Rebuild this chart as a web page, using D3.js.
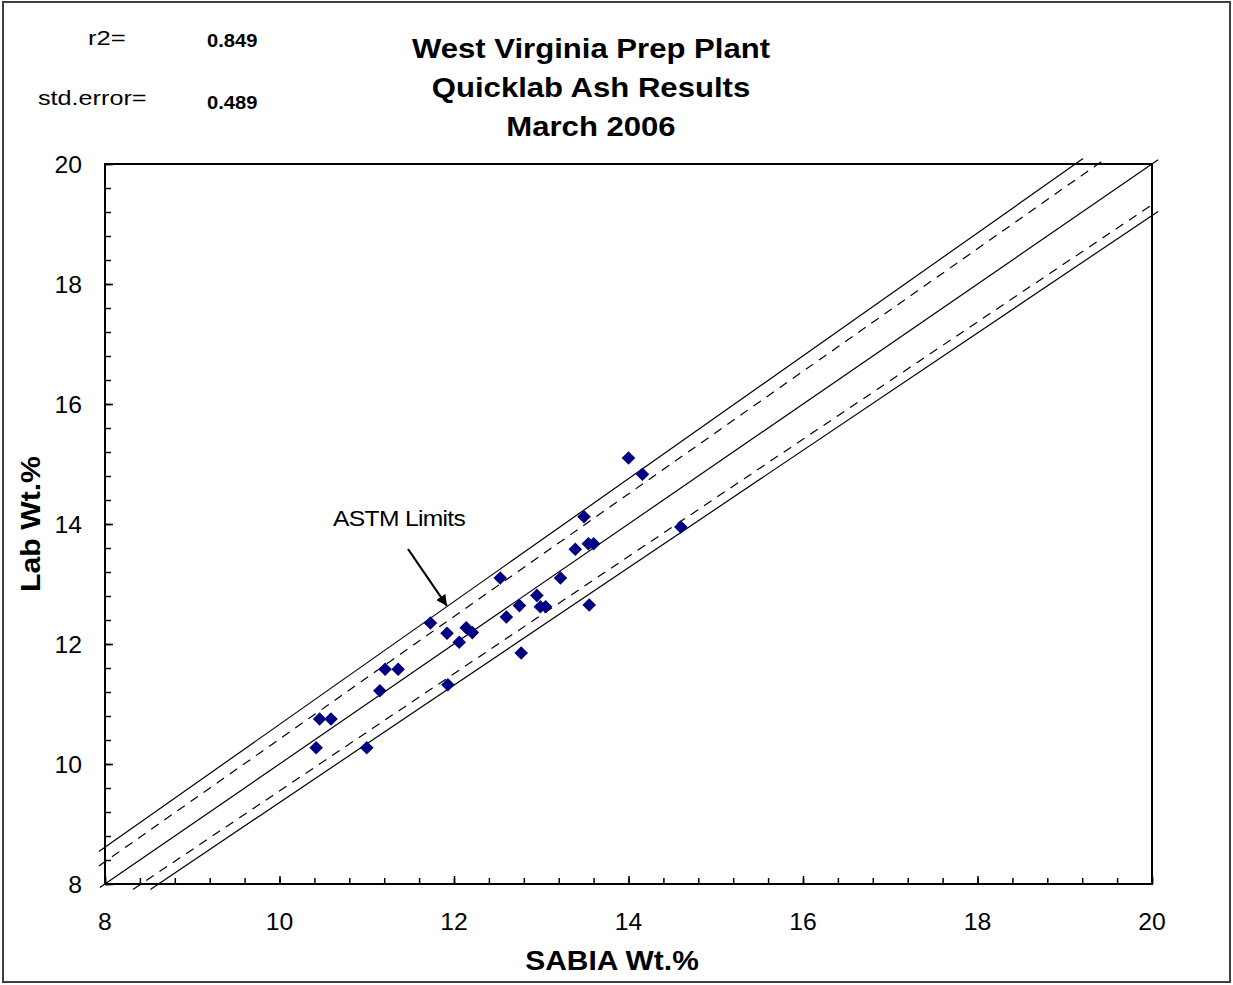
<!DOCTYPE html>
<html>
<head>
<meta charset="utf-8">
<script src="https://cdn.jsdelivr.net/npm/d3@7"></script>
<style>
  body { margin: 0; background: #fff; }
  svg text { font-family: "Liberation Sans", Arial, sans-serif; }
</style>
</head>
<body>
<div class="chart"></div>
<script>
// data
var sabia = [14.00, 14.16, 14.60, 13.49, 13.39, 13.54, 13.60, 13.22, 13.55, 12.53,
             12.95, 12.99, 13.05, 12.75, 12.60, 12.77, 11.73, 11.92, 12.14, 12.21,
             12.06, 11.93, 11.21, 11.36, 11.15, 10.46, 10.59, 10.42, 11.00];
var lab   = [15.10, 14.83, 13.95, 14.12, 13.58, 13.67, 13.67, 13.10, 12.65, 13.10,
             12.81, 12.62, 12.62, 12.64, 12.45, 11.85, 12.35, 12.18, 12.27, 12.19,
             12.03, 11.32, 11.58, 11.58, 11.22, 10.75, 10.75, 10.27, 10.27];

// limit lines as end points [x1, y1, x2, y2]
var centerLine   = [7.94, 7.94, 20.07, 20.07];
var upperSolid   = [7.93, 8.54, 19.21, 20.09];
var upperDashed  = [7.93, 8.30, 19.46, 20.08];
var lowerDashed  = [8.32, 7.91, 20.03, 19.35];
var lowerSolid   = [8.52, 7.91, 20.07, 19.21];

var majorTicks = [8, 10, 12, 14, 16, 18, 20];
var titleLines = ["West Virginia Prep Plant", "Quicklab Ash Results", "March 2006"];
var r2 = "0.849";
var stdError = "0.489";

var svgWidth = 1233;
var svgHeight = 985;
var margin = {top: 164, right: 81, bottom: 101, left: 105};
var width = svgWidth - margin.left - margin.right;
var height = svgHeight - margin.top - margin.bottom;

var svg = d3.select(".chart")
    .append("svg")
    .attr("width", svgWidth)
    .attr("height", svgHeight);

// text helper, the original text is a bit stretched sideways
function label(parent, px, py, str, size, bold, sx, anchor, rot) {
    return parent.append("text")
        .attr("transform", "translate(" + px + "," + py + ")" + (rot ? " rotate(" + rot + ")" : "") + " scale(" + sx + ",1)")
        .attr("text-anchor", anchor || "start")
        .style("font-size", size + "px")
        .style("font-weight", bold ? "bold" : "normal")
        .text(str);
}

// outer frame
svg.append("rect")
    .attr("x", 3).attr("y", 2)
    .attr("width", 1227).attr("height", 980)
    .attr("fill", "none")
    .attr("stroke", "#404040")
    .attr("stroke-width", 2);

var chart = svg.append("g")
    .attr("transform", "translate(" + margin.left + "," + margin.top + ")");

var x = d3.scaleLinear().domain([8, 20]).range([0, width]);
var y = d3.scaleLinear().domain([8, 20]).range([height, 0]);

// minor ticks, inside
var minor = d3.range(8, 20.01, 0.4);
chart.append("g")
    .attr("transform", "translate(0," + height + ")")
    .call(d3.axisTop(x).tickValues(minor).tickSize(6).tickFormat(""))
    .call(g => g.select(".domain").remove());
chart.append("g")
    .call(d3.axisRight(y).tickValues(minor).tickSize(6).tickFormat(""))
    .call(g => g.select(".domain").remove());

// major ticks, inside
chart.append("g")
    .attr("transform", "translate(0," + height + ")")
    .call(d3.axisTop(x).tickValues(majorTicks).tickSize(8).tickFormat(""))
    .call(g => g.select(".domain").remove());
chart.append("g")
    .call(d3.axisRight(y).tickValues(majorTicks).tickSize(8).tickFormat(""))
    .call(g => g.select(".domain").remove());

chart.selectAll(".tick line").attr("stroke", "#000").attr("stroke-width", 1.5);

// tick labels
majorTicks.forEach(function(d) {
    label(chart, x(d), height + 46, d, 24, false, 1.03, "middle");
    label(chart, -23, y(d) + 9, d, 24, false, 1.03, "end");
});

// limit lines
var lines = [
    {p: centerLine, dash: null},
    {p: upperSolid, dash: null},
    {p: lowerSolid, dash: null},
    {p: upperDashed, dash: "9,7"},
    {p: lowerDashed, dash: "9,7"}
];
chart.selectAll(".limit")
    .data(lines).enter().append("line")
    .attr("class", "limit")
    .attr("x1", function(d) { return x(d.p[0]); })
    .attr("y1", function(d) { return y(d.p[1]); })
    .attr("x2", function(d) { return x(d.p[2]); })
    .attr("y2", function(d) { return y(d.p[3]); })
    .attr("stroke", "#000")
    .attr("stroke-width", 1.2)
    .attr("stroke-dasharray", function(d) { return d.dash; });

// plot frame
chart.append("rect")
    .attr("width", width).attr("height", height)
    .attr("fill", "none")
    .attr("stroke", "#000")
    .attr("stroke-width", 2);

// points
chart.selectAll(".pt")
    .data(sabia).enter().append("path")
    .attr("class", "pt")
    .attr("d", "M0,-6.8L6.8,0L0,6.8L-6.8,0Z")
    .attr("transform", function(d, i) { return "translate(" + x(d) + "," + y(lab[i]) + ")"; })
    .attr("fill", "#000080");

// ASTM annotation
svg.append("defs").append("marker")
    .attr("id", "arrow")
    .attr("viewBox", "0 0 10 10")
    .attr("refX", 10).attr("refY", 5)
    .attr("markerWidth", 5).attr("markerHeight", 5)
    .attr("orient", "auto")
    .append("path")
    .attr("d", "M0,0L10,5L0,10Z")
    .attr("fill", "#000");
svg.append("line")
    .attr("x1", 408).attr("y1", 549)
    .attr("x2", 447).attr("y2", 606)
    .attr("stroke", "#000")
    .attr("stroke-width", 2.2)
    .attr("marker-end", "url(#arrow)");
label(svg, 333, 526, "ASTM Limits", 22, false, 1.12).style("letter-spacing", "-0.6px");

// title
titleLines.forEach(function(d, i) {
    label(svg, 591, 58 + i * 39, d, 28, true, 1.11, "middle");
});

// stats
label(svg, 88, 45, "r2=", 21, false, 1.22);
label(svg, 207, 47, r2, 18, true, 1.12);
label(svg, 38, 105, "std.error=", 21, false, 1.2);
label(svg, 207, 109, stdError, 18, true, 1.12);

// axis titles
label(svg, 612, 970, "SABIA Wt.%", 28, true, 1.07, "middle");
label(svg, 40, 524, "Lab Wt.%", 28, true, 1.08, "middle", -90);
</script>
</body>
</html>
